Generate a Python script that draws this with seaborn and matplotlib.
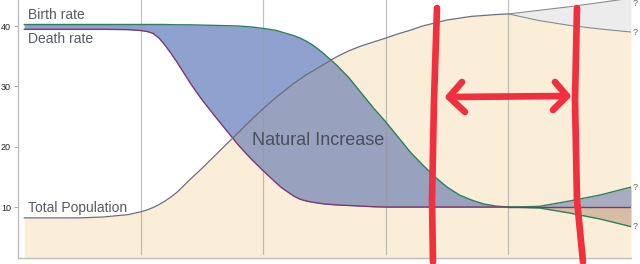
import matplotlib
matplotlib.use("Agg")
import matplotlib.pyplot as plt
import numpy as np
import pandas as pd
import seaborn as sns

# ---------------- data ----------------
years = [0.05, 0.5, 0.7, 0.9, 1.0, 1.05, 1.1, 1.15, 1.2, 1.25, 1.3, 1.35, 1.4, 1.45,
         1.5, 1.6, 1.7, 1.8, 1.9, 2.0, 2.1, 2.15, 2.2, 2.25, 2.3, 2.35, 2.4, 2.45,
         2.5, 2.6, 2.7, 2.8, 2.9, 3.0, 3.1, 3.2, 3.3, 3.4, 3.5, 3.6, 3.7, 3.8, 3.9, 4.0]
birth = [40.25, 40.25, 40.25, 40.25, 40.25, 40.25, 40.25, 40.25, 40.25, 40.22, 40.2, 40.2, 40.2, 40.17,
         40.15, 40.1, 40.05, 40.0, 39.85, 39.6, 39.3, 39.0, 38.7, 38.4, 38.0, 37.5, 36.9, 36.15,
         35.3, 33.5, 31.4, 28.9, 26.4, 24.1, 21.6, 19.1, 17.0, 15.0, 13.3, 12.0, 11.15, 10.5, 10.15, 10.0]
death = [39.45, 39.45, 39.45, 39.4, 39.25, 39.1, 38.8, 38.0, 36.8, 35.4, 33.9, 32.3, 30.7, 29.2,
         27.8, 25.2, 22.7, 20.2, 18.0, 16.0, 14.1, 13.2, 12.5, 11.8, 11.3, 11.0, 10.8, 10.65,
         10.5, 10.35, 10.25, 10.15, 10.05, 10.0, 10.0, 10.0, 10.0, 10.0, 10.0, 10.0, 10.0, 10.0, 10.0, 10.0]
population = [8.2, 8.2, 8.35, 8.75, 9.2, 9.5, 9.9, 10.4, 11.0, 11.7, 12.5, 13.5, 14.5, 15.45,
              16.4, 18.4, 20.4, 22.4, 24.4, 26.3, 28.1, 28.9, 29.7, 30.5, 31.2, 31.9, 32.5, 33.1,
              33.7, 34.9, 35.9, 36.7, 37.35, 38.0, 38.7, 39.3, 40.0, 40.5, 41.0, 41.3, 41.6, 41.75, 41.9, 42.0]

future_years = [4.0, 4.25, 4.5, 4.75, 5.0]
birth_high = [10.0, 10.1, 11.0, 12.0, 13.3]
birth_low = [10.0, 9.85, 9.0, 8.0, 6.75]
death_future = [10.0, 10.0, 10.0, 10.0, 10.0]
pop_high = [42.0, 42.6, 43.2, 43.9, 44.6]
pop_low = [42.0, 40.9, 40.1, 39.5, 39.0]

y_ticks = [10, 20, 30, 40]
grid_x = [1, 2, 3, 4]

# ---------------- style ----------------
sns.set_style("ticks")
plt.rcParams["font.family"] = ["Liberation Sans", "DejaVu Sans"]

BEIGE = "#fbeed8"
BLUE_W = "#8fa2cf"
BLUE_B = "#98a1be"
GRAY_FILL = "#ececec"
BROWN = "#d7bda3"
C_BIRTH = "#2f7f5e"
C_DEATH = "#7a3a70"
C_POP = "#6b6d80"
TXT = "#555a63"
RED = "#f0303e"

YMIN, YMAX = 1.55, 44.31

fig = plt.figure(figsize=(6.4, 2.64), dpi=100)
ax = fig.add_axes([18 / 640, 6 / 264, 613 / 640, 258 / 264])

df = pd.DataFrame({"year": years, "birth": birth, "death": death, "population": population})
fut = pd.DataFrame({"year": future_years, "birth_high": birth_high, "birth_low": birth_low,
                    "death": death_future, "pop_high": pop_high, "pop_low": pop_low})

# beige area under population (main + lower branch)
pop_x = list(df["year"]) + list(fut["year"][1:])
pop_y = list(df["population"]) + list(fut["pop_low"][1:])
beige = ax.fill_between(pop_x, pop_y, YMIN, color=BEIGE, lw=0, zorder=1)
# grey uncertainty wedge
ax.fill_between(fut["year"], fut["pop_low"], fut["pop_high"], color=GRAY_FILL, lw=0, zorder=1)

# natural increase fill (blue on white, greyer blue on beige)
ax.fill_between(df["year"], df["death"], df["birth"], color=BLUE_W, lw=0, zorder=2)
nb = ax.fill_between(df["year"], df["death"], df["birth"], color=BLUE_B, lw=0, zorder=2.1)
nb.set_clip_path(beige.get_paths()[0], ax.transData)
ax.fill_between(fut["year"], fut["death"], fut["birth_high"], color=BLUE_B, lw=0, alpha=0.85, zorder=2.1)
ax.fill_between(fut["year"], fut["birth_low"], fut["death"], color=BROWN, lw=0, zorder=2.1)

# vertical grid lines
for gx in grid_x:
    ax.axvline(gx, ymin=0.015, ymax=1, color="#9a9a9a", lw=0.9, alpha=0.6, zorder=2.5)

# lines
sns.lineplot(data=df, x="year", y="birth", ax=ax, color=C_BIRTH, lw=1.0, zorder=3)
sns.lineplot(data=df, x="year", y="death", ax=ax, color=C_DEATH, lw=1.0, zorder=3)
sns.lineplot(data=df, x="year", y="population", ax=ax, color=C_POP, lw=0.9, zorder=3)
sns.lineplot(data=fut, x="year", y="birth_high", ax=ax, color=C_BIRTH, lw=1.0, zorder=3)
sns.lineplot(data=fut, x="year", y="birth_low", ax=ax, color=C_BIRTH, lw=1.0, zorder=3)
sns.lineplot(data=fut, x="year", y="death", ax=ax, color=C_DEATH, lw=1.0, zorder=3)
sns.lineplot(data=fut, x="year", y="pop_high", ax=ax, color="#8a8a8a", lw=0.8, zorder=3)
sns.lineplot(data=fut, x="year", y="pop_low", ax=ax, color="#8a8a8a", lw=0.8, zorder=3)

# text labels
ax.text(0.08, 41.1, "Birth rate", fontsize=10, color=TXT, va="baseline", zorder=4)
ax.text(0.08, 37.2, "Death rate", fontsize=10, color=TXT, va="baseline", zorder=4)
ax.text(0.08, 9.2, "Total Population", fontsize=10, color=TXT, va="baseline", zorder=4)
ax.text(1.91, 20.3, "Natural Increase", fontsize=13, color="#4a4f5c", va="baseline", zorder=4)
q_pos = [43.7, pop_low[-1], birth_high[-1], birth_low[-1]]
for yv in q_pos:
    ax.text(5.01, yv, "?", fontsize=6.5, color="#666666", va="center", ha="left",
            clip_on=False, zorder=4)

# axes
ax.set_xlim(0, 5)
ax.set_ylim(YMIN, YMAX)
ax.set_yticks(y_ticks)
ax.set_yticklabels([str(t) for t in y_ticks])
ax.set_xticks([])
ax.set_xlabel("")
ax.set_ylabel("")
ax.tick_params(axis="y", labelsize=6.5, length=3, width=0.6, color="#999999", labelcolor="#222222", pad=2)
for side in ["top", "right"]:
    ax.spines[side].set_visible(False)
for side in ["left", "bottom"]:
    ax.spines[side].set_color("#bdbdbd")
    ax.spines[side].set_linewidth(1.0)

# hand-drawn red annotation (figure pixel coords)
def fp(xs, ys):
    return [x / 640 for x in xs], [1 - y / 264 for y in ys]

red_kw = dict(color=RED, lw=4.8, solid_capstyle="round", solid_joinstyle="round",
              transform=fig.transFigure, clip_on=False, zorder=6)
x1, y1 = fp([437, 434, 432, 433], [8, 100, 200, 262])
ax.plot(x1, y1, **red_kw)
x2, y2 = fp([577, 575, 577, 583], [8, 100, 200, 262])
ax.plot(x2, y2, **red_kw)
xa, ya = fp([449, 567], [97, 96])
ax.plot(xa, ya, **red_kw)
xl, yl = fp([462, 449, 465], [82, 97, 112])
ax.plot(xl, yl, **red_kw)
xr, yr = fp([555, 567, 553], [82, 96, 110])
ax.plot(xr, yr, **red_kw)

fig.savefig("out.png", dpi=100)
